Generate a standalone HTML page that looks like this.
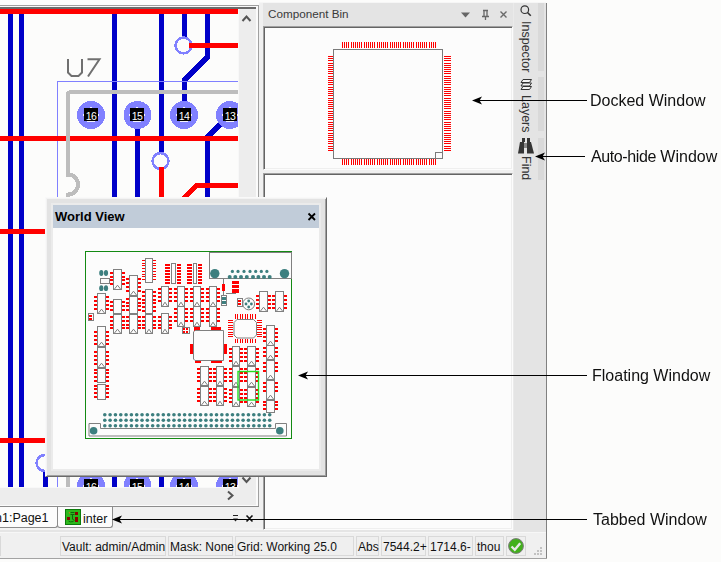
<!DOCTYPE html>
<html><head><meta charset="utf-8"><title>Altium</title>
<style>
*{margin:0;padding:0;box-sizing:border-box}
html,body{width:721px;height:562px;overflow:hidden;background:#fcfcfb;font-family:"Liberation Sans",sans-serif;position:relative}
.a{position:absolute}
.t{white-space:nowrap;line-height:1}
</style></head><body>
<div class="a" style="left:0px;top:5px;width:259px;height:1px;background:#a0a0a0;"></div>
<div class="a" style="left:0px;top:6px;width:258px;height:1px;background:#fafafa;"></div>
<div class="a" style="left:0px;top:7px;width:256px;height:2px;background:#6a6a6a;"></div>
<svg class="a" style="left:0;top:0" width="238" height="487" viewBox="0 0 238 487" shape-rendering="crispEdges">
<rect x="0" y="9" width="238" height="478" fill="#fcfcfb"/>
<path d="M10.5 9 V487" stroke="#0000c8" stroke-width="5" fill="none" stroke-linejoin="miter"/>
<path d="M21.5 9 V487" stroke="#0000c8" stroke-width="5" fill="none" stroke-linejoin="miter"/>
<path d="M114.5 9 V487" stroke="#0000c8" stroke-width="5" fill="none" stroke-linejoin="miter"/>
<path d="M137.5 115 V487" stroke="#0000c8" stroke-width="5" fill="none" stroke-linejoin="miter"/>
<path d="M161.5 9 V161" stroke="#0000c8" stroke-width="5" fill="none" stroke-linejoin="miter"/>
<path d="M184.5 9 V45" stroke="#0000c8" stroke-width="5" fill="none" stroke-linejoin="miter"/>
<path d="M207.5 9 V57 L184.5 80 V115" stroke="#0000c8" stroke-width="5" fill="none" stroke-linejoin="miter"/>
<path d="M229.5 115 L207.5 137 V300" stroke="#0000c8" stroke-width="5" fill="none" stroke-linejoin="miter"/>
<path d="M161.5 300 V487" stroke="#0000c8" stroke-width="5" fill="none" stroke-linejoin="miter"/>
<path d="M45.5 463 V487" stroke="#0000c8" stroke-width="5" fill="none" stroke-linejoin="miter"/>
<rect x="57" y="81" width="1" height="406" fill="#8080ff"/>
<rect x="57" y="81" width="181" height="1" fill="#8080ff"/>
<rect x="0" y="9" width="238" height="5" fill="#ff0000"/>
<rect x="0" y="136" width="238" height="5" fill="#ff0000"/>
<rect x="0" y="229" width="45" height="5" fill="#ff0000"/>
<rect x="0" y="438" width="45" height="5" fill="#ff0000"/>
<path d="M182.5 199.5 L196.5 185.5 H240" stroke="#ff0000" stroke-width="5" fill="none" stroke-linejoin="miter"/>
<path d="M68 490 V194.5 A10 10 0 0 0 68 174.5 V95 Q68 92 71 92 H240" stroke="#bdbdbd" stroke-width="4" fill="none"/>
<circle cx="183.5" cy="45.5" r="7.9" fill="#fcfcfb" stroke="#8080ff" stroke-width="2.6"/>
<circle cx="160.5" cy="161" r="7.9" fill="#fcfcfb" stroke="#8080ff" stroke-width="2.6"/>
<circle cx="44.5" cy="463" r="7.9" fill="#fcfcfb" stroke="#8080ff" stroke-width="2.6"/>
<rect x="189" y="43" width="49" height="5" fill="#ff0000"/>
<rect x="159" y="167" width="5" height="32" fill="#ff0000"/>
<circle cx="91" cy="115" r="14" fill="#8080ff"/>
<rect x="84" y="108" width="14" height="13" fill="#000"/>
<rect x="90" y="107" width="2" height="1" fill="#f4f4ff"/>
<rect x="83" y="114" width="1" height="2" fill="#f4f4ff"/>
<rect x="98" y="114" width="1" height="2" fill="#f4f4ff"/>
<rect x="87" y="121" width="8" height="1" fill="#f4f4ff"/>
<text x="91" y="119.5" font-size="10.5" fill="#fff" text-anchor="middle" font-family="Liberation Sans" letter-spacing="-0.6" shape-rendering="auto">16</text>
<circle cx="91" cy="486" r="14" fill="#8080ff"/>
<rect x="84" y="479" width="14" height="13" fill="#000"/>
<rect x="90" y="478" width="2" height="1" fill="#f4f4ff"/>
<rect x="83" y="485" width="1" height="2" fill="#f4f4ff"/>
<rect x="98" y="485" width="1" height="2" fill="#f4f4ff"/>
<rect x="87" y="492" width="8" height="1" fill="#f4f4ff"/>
<text x="91" y="490.5" font-size="10.5" fill="#fff" text-anchor="middle" font-family="Liberation Sans" letter-spacing="-0.6" shape-rendering="auto">16</text>
<circle cx="137.5" cy="115" r="14" fill="#8080ff"/>
<rect x="130" y="108" width="14" height="13" fill="#000"/>
<rect x="136" y="107" width="2" height="1" fill="#f4f4ff"/>
<rect x="129" y="114" width="1" height="2" fill="#f4f4ff"/>
<rect x="144" y="114" width="1" height="2" fill="#f4f4ff"/>
<rect x="133" y="121" width="8" height="1" fill="#f4f4ff"/>
<text x="137" y="119.5" font-size="10.5" fill="#fff" text-anchor="middle" font-family="Liberation Sans" letter-spacing="-0.6" shape-rendering="auto">15</text>
<circle cx="137.5" cy="486" r="14" fill="#8080ff"/>
<rect x="130" y="479" width="14" height="13" fill="#000"/>
<rect x="136" y="478" width="2" height="1" fill="#f4f4ff"/>
<rect x="129" y="485" width="1" height="2" fill="#f4f4ff"/>
<rect x="144" y="485" width="1" height="2" fill="#f4f4ff"/>
<rect x="133" y="492" width="8" height="1" fill="#f4f4ff"/>
<text x="137" y="490.5" font-size="10.5" fill="#fff" text-anchor="middle" font-family="Liberation Sans" letter-spacing="-0.6" shape-rendering="auto">15</text>
<circle cx="184" cy="115" r="14" fill="#8080ff"/>
<rect x="177" y="108" width="14" height="13" fill="#000"/>
<rect x="183" y="107" width="2" height="1" fill="#f4f4ff"/>
<rect x="176" y="114" width="1" height="2" fill="#f4f4ff"/>
<rect x="191" y="114" width="1" height="2" fill="#f4f4ff"/>
<rect x="180" y="121" width="8" height="1" fill="#f4f4ff"/>
<text x="184" y="119.5" font-size="10.5" fill="#fff" text-anchor="middle" font-family="Liberation Sans" letter-spacing="-0.6" shape-rendering="auto">14</text>
<circle cx="184" cy="486" r="14" fill="#8080ff"/>
<rect x="177" y="479" width="14" height="13" fill="#000"/>
<rect x="183" y="478" width="2" height="1" fill="#f4f4ff"/>
<rect x="176" y="485" width="1" height="2" fill="#f4f4ff"/>
<rect x="191" y="485" width="1" height="2" fill="#f4f4ff"/>
<rect x="180" y="492" width="8" height="1" fill="#f4f4ff"/>
<text x="184" y="490.5" font-size="10.5" fill="#fff" text-anchor="middle" font-family="Liberation Sans" letter-spacing="-0.6" shape-rendering="auto">14</text>
<circle cx="230" cy="115" r="14" fill="#8080ff"/>
<rect x="223" y="108" width="14" height="13" fill="#000"/>
<rect x="229" y="107" width="2" height="1" fill="#f4f4ff"/>
<rect x="222" y="114" width="1" height="2" fill="#f4f4ff"/>
<rect x="237" y="114" width="1" height="2" fill="#f4f4ff"/>
<rect x="226" y="121" width="8" height="1" fill="#f4f4ff"/>
<text x="230" y="119.5" font-size="10.5" fill="#fff" text-anchor="middle" font-family="Liberation Sans" letter-spacing="-0.6" shape-rendering="auto">13</text>
<circle cx="230" cy="486" r="14" fill="#8080ff"/>
<rect x="223" y="479" width="14" height="13" fill="#000"/>
<rect x="229" y="478" width="2" height="1" fill="#f4f4ff"/>
<rect x="222" y="485" width="1" height="2" fill="#f4f4ff"/>
<rect x="237" y="485" width="1" height="2" fill="#f4f4ff"/>
<rect x="226" y="492" width="8" height="1" fill="#f4f4ff"/>
<text x="230" y="490.5" font-size="10.5" fill="#fff" text-anchor="middle" font-family="Liberation Sans" letter-spacing="-0.6" shape-rendering="auto">13</text>
<path d="M68 59 V72.5 L71.5 76 H78.5 L82 72.5 V59 M87.5 59.2 H99.5 L88 76.5" stroke="#707070" stroke-width="2" fill="none" shape-rendering="auto"/>
</svg>
<div class="a" style="left:238px;top:9px;width:18px;height:478px;background:#ededed;"></div>
<div class="a" style="left:238px;top:9px;width:1px;height:478px;background:#f8f8f8;"></div>
<svg class="a" style="left:241px;top:13px" width="12" height="10"><path d="M1.5 8 L5.5 3.5 L9.5 8" stroke="#555" stroke-width="2" fill="none"/></svg>
<svg class="a" style="left:241px;top:476px" width="12" height="10"><path d="M1.5 1.5 L5.5 6 L9.5 1.5" stroke="#555" stroke-width="2" fill="none"/></svg>
<div class="a" style="left:0px;top:487px;width:256px;height:18px;background:#ededed;"></div>
<div class="a" style="left:0px;top:487px;width:239px;height:1px;background:#f8f8f8;"></div>
<svg class="a" style="left:226px;top:490px" width="10" height="12"><path d="M2 1.5 L6.5 5.5 L2 9.5" stroke="#555" stroke-width="2" fill="none"/></svg>
<div class="a" style="left:256px;top:6px;width:2px;height:500px;background:#fbfbfb;"></div>
<div class="a" style="left:258px;top:5px;width:1px;height:502px;background:#a0a0a0;"></div>
<div class="a" style="left:0px;top:505px;width:258px;height:1px;background:#fbfbfb;"></div>
<div class="a" style="left:0px;top:506px;width:259px;height:1px;background:#8c8c8c;"></div>
<div class="a" style="left:0px;top:507px;width:259px;height:23px;background:#f0f0f0;"></div>
<div class="a" style="left:-5px;top:507px;width:63px;height:21px;background:#fcfcfc;border:1px solid #8c8c8c;border-top:none;border-radius:0 0 3px 3px"></div>
<div class="a" style="left:57px;top:507px;width:56px;height:21px;background:#fcfcfc;border:1px solid #8c8c8c;border-top:none;border-radius:0 0 3px 3px"></div>
<div class="a t" style="left:-5px;top:512px;font-size:12.5px;color:#111;font-weight:normal;">n1:Page1</div>
<svg class="a" style="left:65px;top:509px" width="16" height="16" viewBox="0 0 16 16">
<rect x="0" y="0" width="16" height="16" fill="#0b7b0b"/>
<rect x="1" y="1" width="14" height="14" fill="#2cb81c"/>
<rect x="10" y="3" width="3" height="3" fill="#8b0000"/>
<rect x="10" y="8" width="3" height="5" fill="#8b0000"/>
<rect x="2" y="8" width="3" height="3" fill="#8b0000"/>
<path d="M4.5 2.8 L5.5 3.8 L4.5 4.8 L3.5 3.8 Z" fill="#c08020"/>
<path d="M5.5 3.5 H9.5 M5.5 5.5 H9.5 M7.5 5.5 V10.5 M3.5 12 Q5 13.5 8.5 12.5 M8 10.5 L9.5 11.5" stroke="#0a6a0a" stroke-width="1" fill="none"/>
</svg>
<div class="a t" style="left:83px;top:513px;font-size:12.5px;color:#111;font-weight:normal;">inter</div>
<svg class="a" style="left:230px;top:512px" width="30" height="12"><rect x="3" y="3" width="5" height="1" fill="#222"/><path d="M3 6.5 L8 6.5 L5.5 9.5 Z" fill="#222"/><path d="M16.5 3.5 L22.5 9.5 M22.5 3.5 L16.5 9.5" stroke="#111" stroke-width="1.6"/></svg>
<div class="a" style="left:259px;top:3px;width:254px;height:527px;background:#f0f0f0;"></div>
<div class="a" style="left:259px;top:2px;width:287px;height:1px;background:#f6f6f6;"></div>
<div class="a" style="left:263px;top:3px;width:250px;height:23px;background:#e4e4e4;"></div>
<div class="a t" style="left:268px;top:8px;font-size:11.7px;color:#3a3a3a;font-weight:normal;">Component Bin</div>
<svg class="a" style="left:458px;top:8px" width="55" height="14">
<path d="M3 4.5 H12 L7.5 9.5 Z" fill="#666"/>
<path d="M25 2.5 H30 M26 2.5 V8 M29 2.5 V8 M24 8.5 H31 M27.5 8.5 V12" stroke="#666" stroke-width="1.3" fill="none"/>
<path d="M42.5 3.5 L48.5 9.5 M48.5 3.5 L42.5 9.5" stroke="#6a6a6a" stroke-width="1.4"/>
</svg>
<div class="a" style="left:263px;top:26px;width:250px;height:144px;background:#fcfcfc;border-top:1px solid #a0a0a0;border-left:1px solid #a0a0a0;border-right:1px solid #fcfcfc;border-bottom:1px solid #fcfcfc;box-shadow:inset 1px 1px 0 #646464, inset -1px -1px 0 #efefef"></div>
<div class="a" style="left:263px;top:173px;width:250px;height:357px;background:#fcfcfc;border-top:1px solid #a0a0a0;border-left:1px solid #a0a0a0;border-right:1px solid #fcfcfc;border-bottom:1px solid #fcfcfc;box-shadow:inset 1px 1px 0 #646464, inset -1px -1px 0 #efefef"></div>
<svg class="a" style="left:320px;top:36px" width="140" height="135" viewBox="320 36 140 135" shape-rendering="crispEdges">
<rect x="342" y="42" width="1" height="6" fill="#ff0000"/>
<rect x="342" y="159" width="1" height="6" fill="#ff0000"/>
<rect x="328" y="56" width="5" height="1" fill="#ff0000"/>
<rect x="444" y="56" width="7" height="1" fill="#ff0000"/>
<rect x="344" y="42" width="1" height="6" fill="#ff0000"/>
<rect x="344" y="159" width="1" height="6" fill="#ff0000"/>
<rect x="328" y="58" width="5" height="1" fill="#ff0000"/>
<rect x="444" y="58" width="7" height="1" fill="#ff0000"/>
<rect x="346" y="42" width="1" height="6" fill="#ff0000"/>
<rect x="346" y="159" width="1" height="6" fill="#ff0000"/>
<rect x="328" y="60" width="5" height="1" fill="#ff0000"/>
<rect x="444" y="60" width="7" height="1" fill="#ff0000"/>
<rect x="348" y="42" width="1" height="6" fill="#ff0000"/>
<rect x="348" y="159" width="1" height="6" fill="#ff0000"/>
<rect x="328" y="63" width="5" height="1" fill="#ff0000"/>
<rect x="444" y="63" width="7" height="1" fill="#ff0000"/>
<rect x="351" y="42" width="1" height="6" fill="#ff0000"/>
<rect x="351" y="159" width="1" height="6" fill="#ff0000"/>
<rect x="328" y="65" width="5" height="1" fill="#ff0000"/>
<rect x="444" y="65" width="7" height="1" fill="#ff0000"/>
<rect x="353" y="42" width="1" height="6" fill="#ff0000"/>
<rect x="353" y="159" width="1" height="6" fill="#ff0000"/>
<rect x="328" y="67" width="5" height="1" fill="#ff0000"/>
<rect x="444" y="67" width="7" height="1" fill="#ff0000"/>
<rect x="355" y="42" width="1" height="6" fill="#ff0000"/>
<rect x="355" y="159" width="1" height="6" fill="#ff0000"/>
<rect x="328" y="69" width="5" height="1" fill="#ff0000"/>
<rect x="444" y="69" width="7" height="1" fill="#ff0000"/>
<rect x="357" y="42" width="1" height="6" fill="#ff0000"/>
<rect x="357" y="159" width="1" height="6" fill="#ff0000"/>
<rect x="328" y="71" width="5" height="1" fill="#ff0000"/>
<rect x="444" y="71" width="7" height="1" fill="#ff0000"/>
<rect x="359" y="42" width="1" height="6" fill="#ff0000"/>
<rect x="359" y="159" width="1" height="6" fill="#ff0000"/>
<rect x="328" y="73" width="5" height="1" fill="#ff0000"/>
<rect x="444" y="73" width="7" height="1" fill="#ff0000"/>
<rect x="361" y="42" width="1" height="6" fill="#ff0000"/>
<rect x="361" y="159" width="1" height="6" fill="#ff0000"/>
<rect x="328" y="76" width="5" height="1" fill="#ff0000"/>
<rect x="444" y="76" width="7" height="1" fill="#ff0000"/>
<rect x="364" y="42" width="1" height="6" fill="#ff0000"/>
<rect x="364" y="159" width="1" height="6" fill="#ff0000"/>
<rect x="328" y="78" width="5" height="1" fill="#ff0000"/>
<rect x="444" y="78" width="7" height="1" fill="#ff0000"/>
<rect x="366" y="42" width="1" height="6" fill="#ff0000"/>
<rect x="366" y="159" width="1" height="6" fill="#ff0000"/>
<rect x="328" y="80" width="5" height="1" fill="#ff0000"/>
<rect x="444" y="80" width="7" height="1" fill="#ff0000"/>
<rect x="368" y="42" width="1" height="6" fill="#ff0000"/>
<rect x="368" y="159" width="1" height="6" fill="#ff0000"/>
<rect x="328" y="82" width="5" height="1" fill="#ff0000"/>
<rect x="444" y="82" width="7" height="1" fill="#ff0000"/>
<rect x="370" y="42" width="1" height="6" fill="#ff0000"/>
<rect x="370" y="159" width="1" height="6" fill="#ff0000"/>
<rect x="328" y="84" width="5" height="1" fill="#ff0000"/>
<rect x="444" y="84" width="7" height="1" fill="#ff0000"/>
<rect x="372" y="42" width="1" height="6" fill="#ff0000"/>
<rect x="372" y="159" width="1" height="6" fill="#ff0000"/>
<rect x="328" y="87" width="5" height="1" fill="#ff0000"/>
<rect x="444" y="87" width="7" height="1" fill="#ff0000"/>
<rect x="374" y="42" width="1" height="6" fill="#ff0000"/>
<rect x="374" y="159" width="1" height="6" fill="#ff0000"/>
<rect x="328" y="89" width="5" height="1" fill="#ff0000"/>
<rect x="444" y="89" width="7" height="1" fill="#ff0000"/>
<rect x="377" y="42" width="1" height="6" fill="#ff0000"/>
<rect x="377" y="159" width="1" height="6" fill="#ff0000"/>
<rect x="328" y="91" width="5" height="1" fill="#ff0000"/>
<rect x="444" y="91" width="7" height="1" fill="#ff0000"/>
<rect x="379" y="42" width="1" height="6" fill="#ff0000"/>
<rect x="379" y="159" width="1" height="6" fill="#ff0000"/>
<rect x="328" y="93" width="5" height="1" fill="#ff0000"/>
<rect x="444" y="93" width="7" height="1" fill="#ff0000"/>
<rect x="381" y="42" width="1" height="6" fill="#ff0000"/>
<rect x="381" y="159" width="1" height="6" fill="#ff0000"/>
<rect x="328" y="95" width="5" height="1" fill="#ff0000"/>
<rect x="444" y="95" width="7" height="1" fill="#ff0000"/>
<rect x="383" y="42" width="1" height="6" fill="#ff0000"/>
<rect x="383" y="159" width="1" height="6" fill="#ff0000"/>
<rect x="328" y="98" width="5" height="1" fill="#ff0000"/>
<rect x="444" y="98" width="7" height="1" fill="#ff0000"/>
<rect x="385" y="42" width="1" height="6" fill="#ff0000"/>
<rect x="385" y="159" width="1" height="6" fill="#ff0000"/>
<rect x="328" y="100" width="5" height="1" fill="#ff0000"/>
<rect x="444" y="100" width="7" height="1" fill="#ff0000"/>
<rect x="387" y="42" width="1" height="6" fill="#ff0000"/>
<rect x="387" y="159" width="1" height="6" fill="#ff0000"/>
<rect x="328" y="102" width="5" height="1" fill="#ff0000"/>
<rect x="444" y="102" width="7" height="1" fill="#ff0000"/>
<rect x="390" y="42" width="1" height="6" fill="#ff0000"/>
<rect x="390" y="159" width="1" height="6" fill="#ff0000"/>
<rect x="328" y="104" width="5" height="1" fill="#ff0000"/>
<rect x="444" y="104" width="7" height="1" fill="#ff0000"/>
<rect x="392" y="42" width="1" height="6" fill="#ff0000"/>
<rect x="392" y="159" width="1" height="6" fill="#ff0000"/>
<rect x="328" y="106" width="5" height="1" fill="#ff0000"/>
<rect x="444" y="106" width="7" height="1" fill="#ff0000"/>
<rect x="394" y="42" width="1" height="6" fill="#ff0000"/>
<rect x="394" y="159" width="1" height="6" fill="#ff0000"/>
<rect x="328" y="108" width="5" height="1" fill="#ff0000"/>
<rect x="444" y="108" width="7" height="1" fill="#ff0000"/>
<rect x="396" y="42" width="1" height="6" fill="#ff0000"/>
<rect x="396" y="159" width="1" height="6" fill="#ff0000"/>
<rect x="328" y="111" width="5" height="1" fill="#ff0000"/>
<rect x="444" y="111" width="7" height="1" fill="#ff0000"/>
<rect x="398" y="42" width="1" height="6" fill="#ff0000"/>
<rect x="398" y="159" width="1" height="6" fill="#ff0000"/>
<rect x="328" y="113" width="5" height="1" fill="#ff0000"/>
<rect x="444" y="113" width="7" height="1" fill="#ff0000"/>
<rect x="400" y="42" width="1" height="6" fill="#ff0000"/>
<rect x="400" y="159" width="1" height="6" fill="#ff0000"/>
<rect x="328" y="115" width="5" height="1" fill="#ff0000"/>
<rect x="444" y="115" width="7" height="1" fill="#ff0000"/>
<rect x="403" y="42" width="1" height="6" fill="#ff0000"/>
<rect x="403" y="159" width="1" height="6" fill="#ff0000"/>
<rect x="328" y="117" width="5" height="1" fill="#ff0000"/>
<rect x="444" y="117" width="7" height="1" fill="#ff0000"/>
<rect x="405" y="42" width="1" height="6" fill="#ff0000"/>
<rect x="405" y="159" width="1" height="6" fill="#ff0000"/>
<rect x="328" y="119" width="5" height="1" fill="#ff0000"/>
<rect x="444" y="119" width="7" height="1" fill="#ff0000"/>
<rect x="407" y="42" width="1" height="6" fill="#ff0000"/>
<rect x="407" y="159" width="1" height="6" fill="#ff0000"/>
<rect x="328" y="122" width="5" height="1" fill="#ff0000"/>
<rect x="444" y="122" width="7" height="1" fill="#ff0000"/>
<rect x="409" y="42" width="1" height="6" fill="#ff0000"/>
<rect x="409" y="159" width="1" height="6" fill="#ff0000"/>
<rect x="328" y="124" width="5" height="1" fill="#ff0000"/>
<rect x="444" y="124" width="7" height="1" fill="#ff0000"/>
<rect x="411" y="42" width="1" height="6" fill="#ff0000"/>
<rect x="411" y="159" width="1" height="6" fill="#ff0000"/>
<rect x="328" y="126" width="5" height="1" fill="#ff0000"/>
<rect x="444" y="126" width="7" height="1" fill="#ff0000"/>
<rect x="413" y="42" width="1" height="6" fill="#ff0000"/>
<rect x="413" y="159" width="1" height="6" fill="#ff0000"/>
<rect x="328" y="128" width="5" height="1" fill="#ff0000"/>
<rect x="444" y="128" width="7" height="1" fill="#ff0000"/>
<rect x="416" y="42" width="1" height="6" fill="#ff0000"/>
<rect x="416" y="159" width="1" height="6" fill="#ff0000"/>
<rect x="328" y="130" width="5" height="1" fill="#ff0000"/>
<rect x="444" y="130" width="7" height="1" fill="#ff0000"/>
<rect x="418" y="42" width="1" height="6" fill="#ff0000"/>
<rect x="418" y="159" width="1" height="6" fill="#ff0000"/>
<rect x="328" y="133" width="5" height="1" fill="#ff0000"/>
<rect x="444" y="133" width="7" height="1" fill="#ff0000"/>
<rect x="420" y="42" width="1" height="6" fill="#ff0000"/>
<rect x="420" y="159" width="1" height="6" fill="#ff0000"/>
<rect x="328" y="135" width="5" height="1" fill="#ff0000"/>
<rect x="444" y="135" width="7" height="1" fill="#ff0000"/>
<rect x="422" y="42" width="1" height="6" fill="#ff0000"/>
<rect x="422" y="159" width="1" height="6" fill="#ff0000"/>
<rect x="328" y="137" width="5" height="1" fill="#ff0000"/>
<rect x="444" y="137" width="7" height="1" fill="#ff0000"/>
<rect x="424" y="42" width="1" height="6" fill="#ff0000"/>
<rect x="424" y="159" width="1" height="6" fill="#ff0000"/>
<rect x="328" y="139" width="5" height="1" fill="#ff0000"/>
<rect x="444" y="139" width="7" height="1" fill="#ff0000"/>
<rect x="426" y="42" width="1" height="6" fill="#ff0000"/>
<rect x="426" y="159" width="1" height="6" fill="#ff0000"/>
<rect x="328" y="141" width="5" height="1" fill="#ff0000"/>
<rect x="444" y="141" width="7" height="1" fill="#ff0000"/>
<rect x="429" y="42" width="1" height="6" fill="#ff0000"/>
<rect x="429" y="159" width="1" height="6" fill="#ff0000"/>
<rect x="328" y="143" width="5" height="1" fill="#ff0000"/>
<rect x="444" y="143" width="7" height="1" fill="#ff0000"/>
<rect x="431" y="42" width="1" height="6" fill="#ff0000"/>
<rect x="431" y="159" width="1" height="6" fill="#ff0000"/>
<rect x="328" y="146" width="5" height="1" fill="#ff0000"/>
<rect x="444" y="146" width="7" height="1" fill="#ff0000"/>
<rect x="433" y="42" width="1" height="6" fill="#ff0000"/>
<rect x="433" y="159" width="1" height="6" fill="#ff0000"/>
<rect x="328" y="148" width="5" height="1" fill="#ff0000"/>
<rect x="444" y="148" width="7" height="1" fill="#ff0000"/>
<rect x="435" y="42" width="1" height="6" fill="#ff0000"/>
<rect x="435" y="159" width="1" height="6" fill="#ff0000"/>
<rect x="328" y="150" width="5" height="1" fill="#ff0000"/>
<rect x="444" y="150" width="7" height="1" fill="#ff0000"/>
<rect x="333.5" y="49.5" width="109" height="109" fill="none" stroke="#7a7a7a" stroke-width="1.5"/>
<rect x="435.5" y="152.5" width="7" height="6" fill="none" stroke="#7a7a7a" stroke-width="1"/>
</svg>
<div class="a" style="left:513px;top:3px;width:1px;height:527px;background:#eaeaea;"></div>
<div class="a" style="left:514px;top:3px;width:32px;height:527px;background:#e4e4e4;"></div>
<div class="a" style="left:538px;top:3px;width:6px;height:68px;background:#d9d9d9;"></div>
<div class="a" style="left:538px;top:77px;width:6px;height:54px;background:#d9d9d9;"></div>
<div class="a" style="left:538px;top:138px;width:6px;height:42px;background:#d9d9d9;"></div>
<div class="a" style="left:546px;top:3px;width:1px;height:556px;background:#808080;"></div>
<svg class="a" style="left:514px;top:3px" width="24" height="180">
<circle cx="10.8" cy="6.7" r="3.8" fill="none" stroke="#333" stroke-width="1.2"/>
<path d="M13.5 9.5 L16.8 12.8" stroke="#333" stroke-width="1.6"/>
<g fill="#f4f4f4" stroke="#333" stroke-width="1">
<path d="M9 83.5 L17.5 83.5 L15.5 86.5 L7 86.5 Z"/>
<path d="M9 80 L17.5 80 L15.5 83 L7 83 Z"/>
<path d="M9 76.5 L17.5 76.5 L15.5 79.5 L7 79.5 Z"/>
</g>
<g fill="#353535">
<rect x="8" y="135" width="3" height="4"/>
<rect x="13" y="135" width="3" height="4"/>
<path d="M6 139 H10 V150.6 H4 Z"/>
<path d="M13 139 H17 L20 150.6 H13 Z"/>
<rect x="10" y="140" width="3" height="5" fill="#8a8a8a"/>
</g>
</svg>
<div class="a t" style="left:519px;top:21px;writing-mode:vertical-rl;font-size:12.5px;color:#333">Inspector</div>
<div class="a t" style="left:519px;top:95px;writing-mode:vertical-rl;font-size:12.5px;color:#333">Layers</div>
<div class="a t" style="left:519px;top:156px;writing-mode:vertical-rl;font-size:12.5px;color:#333">Find</div>
<div class="a" style="left:0px;top:528px;width:263px;height:2px;background:#f3f3f3;"></div>
<div class="a" style="left:0px;top:530px;width:546px;height:2px;background:#e5e5e5;"></div>
<div class="a" style="left:0px;top:532px;width:546px;height:1px;background:#f7f7f7;"></div>
<div class="a" style="left:0px;top:533px;width:546px;height:25px;background:#f0f0f0;"></div>
<div class="a" style="left:0px;top:558px;width:547px;height:1px;background:#a3a3a3;"></div>
<div class="a" style="left:-10px;top:536px;width:11px;height:20px;border:1px solid #d9d9d9;background:#efefef"></div>
<div class="a" style="left:60px;top:536px;width:106px;height:20px;border:1px solid #d9d9d9;background:#efefef"></div>
<div class="a t" style="left:62px;top:541px;font-size:12px;color:#111;font-weight:normal;">Vault: admin/Admin</div>
<div class="a" style="left:168px;top:536px;width:65px;height:20px;border:1px solid #d9d9d9;background:#efefef"></div>
<div class="a t" style="left:170px;top:541px;font-size:12px;color:#111;font-weight:normal;">Mask: None</div>
<div class="a" style="left:235px;top:536px;width:119px;height:20px;border:1px solid #d9d9d9;background:#efefef"></div>
<div class="a t" style="left:237px;top:541px;font-size:12px;color:#111;font-weight:normal;">Grid: Working 25.0</div>
<div class="a" style="left:356px;top:536px;width:23px;height:20px;border:1px solid #d9d9d9;background:#efefef"></div>
<div class="a t" style="left:358px;top:541px;font-size:12px;color:#111;font-weight:normal;">Abs</div>
<div class="a" style="left:381px;top:536px;width:45px;height:20px;border:1px solid #d9d9d9;background:#efefef"></div>
<div class="a t" style="left:383px;top:541px;font-size:12px;color:#111;font-weight:normal;">7544.2+</div>
<div class="a" style="left:428px;top:536px;width:45px;height:20px;border:1px solid #d9d9d9;background:#efefef"></div>
<div class="a t" style="left:430px;top:541px;font-size:12px;color:#111;font-weight:normal;">1714.6-</div>
<div class="a" style="left:475px;top:536px;width:29px;height:20px;border:1px solid #d9d9d9;background:#efefef"></div>
<div class="a t" style="left:477px;top:541px;font-size:12px;color:#111;font-weight:normal;">thou</div>
<div class="a" style="left:506px;top:536px;width:20px;height:20px;border:1px solid #d9d9d9;background:#efefef"></div>
<svg class="a" style="left:507px;top:538px" width="18" height="17">
<circle cx="9" cy="8" r="7.4" fill="#42b01c" stroke="#7a7a7a" stroke-width="1"/>
<path d="M4.5 8.5 L7.8 11.8 L13.2 5.2" stroke="#e8e8e8" stroke-width="2.4" fill="none"/>
</svg>
<svg class="a" style="left:532px;top:547px" width="12" height="10" fill="#c2c2c2">
<rect x="8" y="0" width="2" height="2"/><rect x="5" y="3" width="2" height="2"/><rect x="8" y="3" width="2" height="2"/>
<rect x="2" y="6" width="2" height="2"/><rect x="5" y="6" width="2" height="2"/><rect x="8" y="6" width="2" height="2"/>
</svg>
<div class="a" style="left:45px;top:197px;width:282px;height:280px;background:#e3e3e3;border-top:1px solid #f9f9f9;border-left:1px solid #f9f9f9;border-right:1px solid #6a6a6a;border-bottom:1px solid #6a6a6a;box-shadow:inset 1px 1px 0 #f3f3f3, inset -1px -1px 0 #a0a0a0"></div>
<div class="a" style="left:51px;top:203px;width:270px;height:268px;background:#ebebeb"></div>
<div class="a" style="left:53px;top:205px;width:266px;height:23px;background:#c1ccd9"></div>
<div class="a" style="left:53px;top:228px;width:266px;height:241px;background:#fcfcfc"></div>
<div class="a t" style="left:55px;top:210px;font-size:13px;color:#000;font-weight:bold;">World View</div>
<svg class="a" style="left:306px;top:211px" width="12" height="11"><path d="M2.5 2.5 L9 9 M9 2.5 L2.5 9" stroke="#000" stroke-width="1.8"/></svg>
<svg class="a" id="wv" style="left:0;top:0" width="330" height="480" viewBox="0 0 330 480"><g shape-rendering="crispEdges">
<rect x="85" y="251" width="207" height="1" fill="#138a13"/>
<rect x="85" y="438" width="207" height="1" fill="#138a13"/>
<rect x="85" y="251" width="1" height="188" fill="#138a13"/>
<rect x="291" y="251" width="1" height="188" fill="#138a13"/>
</g>
<ellipse cx="101.3" cy="273" rx="2.1" ry="2.9" fill="#3d7f7f"/>
<ellipse cx="106" cy="273" rx="2.1" ry="2.9" fill="#3d7f7f"/>
<ellipse cx="101.3" cy="288.2" rx="2.1" ry="2.9" fill="#3d7f7f"/>
<ellipse cx="106" cy="288.2" rx="2.1" ry="2.9" fill="#3d7f7f"/>
<g shape-rendering="crispEdges">
<rect x="100" y="278" width="10" height="1" fill="#808080"/>
<rect x="100" y="283" width="10" height="1" fill="#808080"/>
<rect x="100" y="278" width="1" height="6" fill="#808080"/>
<rect x="109" y="278" width="1" height="6" fill="#808080"/>
<rect x="110" y="272" width="3" height="2" fill="#ff0000"/>
<rect x="122" y="272" width="3" height="2" fill="#ff0000"/>
<rect x="110" y="276" width="3" height="2" fill="#ff0000"/>
<rect x="122" y="276" width="3" height="2" fill="#ff0000"/>
<rect x="110" y="279" width="3" height="2" fill="#ff0000"/>
<rect x="122" y="279" width="3" height="2" fill="#ff0000"/>
<rect x="110" y="283" width="3" height="2" fill="#ff0000"/>
<rect x="122" y="283" width="3" height="2" fill="#ff0000"/>
<rect x="113" y="269" width="9" height="1" fill="#808080"/>
<rect x="113" y="289" width="9" height="1" fill="#808080"/>
<rect x="113" y="269" width="1" height="21" fill="#808080"/>
<rect x="121" y="269" width="1" height="21" fill="#808080"/>
<path d="M114.5 289 L117.5 285.2 L120.5 289" fill="none" stroke="#808080" stroke-width="1" shape-rendering="auto"/>
<rect x="126" y="278" width="3" height="2" fill="#ff0000"/>
<rect x="138" y="278" width="3" height="2" fill="#ff0000"/>
<rect x="126" y="282" width="3" height="2" fill="#ff0000"/>
<rect x="138" y="282" width="3" height="2" fill="#ff0000"/>
<rect x="126" y="286" width="3" height="2" fill="#ff0000"/>
<rect x="138" y="286" width="3" height="2" fill="#ff0000"/>
<rect x="126" y="290" width="3" height="2" fill="#ff0000"/>
<rect x="138" y="290" width="3" height="2" fill="#ff0000"/>
<rect x="129" y="275" width="9" height="1" fill="#808080"/>
<rect x="129" y="295" width="9" height="1" fill="#808080"/>
<rect x="129" y="275" width="1" height="21" fill="#808080"/>
<rect x="137" y="275" width="1" height="21" fill="#808080"/>
<path d="M130.5 295 L133.5 291.2 L136.5 295" fill="none" stroke="#808080" stroke-width="1" shape-rendering="auto"/>
<rect x="142" y="260" width="3" height="1" fill="#ff0000"/>
<rect x="153" y="260" width="3" height="1" fill="#ff0000"/>
<rect x="142" y="263" width="3" height="1" fill="#ff0000"/>
<rect x="153" y="263" width="3" height="1" fill="#ff0000"/>
<rect x="142" y="265" width="3" height="1" fill="#ff0000"/>
<rect x="153" y="265" width="3" height="1" fill="#ff0000"/>
<rect x="142" y="268" width="3" height="1" fill="#ff0000"/>
<rect x="153" y="268" width="3" height="1" fill="#ff0000"/>
<rect x="142" y="271" width="3" height="1" fill="#ff0000"/>
<rect x="153" y="271" width="3" height="1" fill="#ff0000"/>
<rect x="142" y="274" width="3" height="1" fill="#ff0000"/>
<rect x="153" y="274" width="3" height="1" fill="#ff0000"/>
<rect x="142" y="276" width="3" height="1" fill="#ff0000"/>
<rect x="153" y="276" width="3" height="1" fill="#ff0000"/>
<rect x="142" y="279" width="3" height="1" fill="#ff0000"/>
<rect x="153" y="279" width="3" height="1" fill="#ff0000"/>
<rect x="145" y="258" width="8" height="1" fill="#808080"/>
<rect x="145" y="282" width="8" height="1" fill="#808080"/>
<rect x="145" y="258" width="1" height="25" fill="#808080"/>
<rect x="152" y="258" width="1" height="25" fill="#808080"/>
<rect x="165" y="264" width="5" height="2" fill="#ff0000"/>
<rect x="177" y="264" width="4" height="2" fill="#ff0000"/>
<rect x="165" y="267" width="5" height="2" fill="#ff0000"/>
<rect x="177" y="267" width="4" height="2" fill="#ff0000"/>
<rect x="165" y="270" width="5" height="2" fill="#ff0000"/>
<rect x="177" y="270" width="4" height="2" fill="#ff0000"/>
<rect x="165" y="273" width="5" height="2" fill="#ff0000"/>
<rect x="177" y="273" width="4" height="2" fill="#ff0000"/>
<rect x="165" y="276" width="5" height="2" fill="#ff0000"/>
<rect x="177" y="276" width="4" height="2" fill="#ff0000"/>
<rect x="165" y="279" width="5" height="2" fill="#ff0000"/>
<rect x="177" y="279" width="4" height="2" fill="#ff0000"/>
<rect x="165" y="282" width="5" height="2" fill="#ff0000"/>
<rect x="177" y="282" width="4" height="2" fill="#ff0000"/>
<rect x="171" y="263" width="5" height="1" fill="#808080"/>
<rect x="171" y="283" width="5" height="1" fill="#808080"/>
<rect x="171" y="263" width="1" height="21" fill="#808080"/>
<rect x="175" y="263" width="1" height="21" fill="#808080"/>
<rect x="187" y="264" width="5" height="2" fill="#ff0000"/>
<rect x="198" y="264" width="4" height="2" fill="#ff0000"/>
<rect x="187" y="267" width="5" height="2" fill="#ff0000"/>
<rect x="198" y="267" width="4" height="2" fill="#ff0000"/>
<rect x="187" y="270" width="5" height="2" fill="#ff0000"/>
<rect x="198" y="270" width="4" height="2" fill="#ff0000"/>
<rect x="187" y="273" width="5" height="2" fill="#ff0000"/>
<rect x="198" y="273" width="4" height="2" fill="#ff0000"/>
<rect x="187" y="276" width="5" height="2" fill="#ff0000"/>
<rect x="198" y="276" width="4" height="2" fill="#ff0000"/>
<rect x="187" y="279" width="5" height="2" fill="#ff0000"/>
<rect x="198" y="279" width="4" height="2" fill="#ff0000"/>
<rect x="187" y="282" width="5" height="2" fill="#ff0000"/>
<rect x="198" y="282" width="4" height="2" fill="#ff0000"/>
<rect x="193" y="263" width="4" height="1" fill="#808080"/>
<rect x="193" y="283" width="4" height="1" fill="#808080"/>
<rect x="193" y="263" width="1" height="21" fill="#808080"/>
<rect x="196" y="263" width="1" height="21" fill="#808080"/>
<rect x="209" y="252" width="83" height="1" fill="#808080"/>
<rect x="209" y="252" width="1" height="27" fill="#808080"/>
<rect x="291" y="252" width="1" height="27" fill="#808080"/>
<rect x="209" y="278" width="83" height="1" fill="#808080"/>
</g>
<circle cx="214.8" cy="273.6" r="4.7" fill="#3d7f7f"/>
<circle cx="284.5" cy="273.6" r="4.7" fill="#3d7f7f"/>
<circle cx="232.4" cy="271.4" r="1.6" fill="#3d7f7f"/>
<circle cx="238" cy="271.4" r="1.6" fill="#3d7f7f"/>
<circle cx="244" cy="271.4" r="1.6" fill="#3d7f7f"/>
<circle cx="250" cy="271.4" r="1.6" fill="#3d7f7f"/>
<circle cx="255.7" cy="271.4" r="1.6" fill="#3d7f7f"/>
<circle cx="261.3" cy="271.4" r="1.6" fill="#3d7f7f"/>
<circle cx="266.9" cy="271.4" r="1.6" fill="#3d7f7f"/>
<circle cx="229.7" cy="277" r="2" fill="#3d7f7f"/>
<circle cx="235.3" cy="277" r="2" fill="#3d7f7f"/>
<circle cx="241" cy="277" r="2" fill="#3d7f7f"/>
<circle cx="246.8" cy="277" r="2" fill="#3d7f7f"/>
<circle cx="253" cy="277" r="2" fill="#3d7f7f"/>
<circle cx="258.4" cy="277" r="2" fill="#3d7f7f"/>
<circle cx="264" cy="277" r="2" fill="#3d7f7f"/>
<circle cx="269.7" cy="277" r="2" fill="#3d7f7f"/>
<g shape-rendering="crispEdges">
<rect x="94" y="296" width="3" height="2" fill="#ff0000"/>
<rect x="106" y="296" width="3" height="2" fill="#ff0000"/>
<rect x="94" y="300" width="3" height="2" fill="#ff0000"/>
<rect x="106" y="300" width="3" height="2" fill="#ff0000"/>
<rect x="94" y="304" width="3" height="2" fill="#ff0000"/>
<rect x="106" y="304" width="3" height="2" fill="#ff0000"/>
<rect x="94" y="308" width="3" height="2" fill="#ff0000"/>
<rect x="106" y="308" width="3" height="2" fill="#ff0000"/>
<rect x="97" y="293" width="9" height="1" fill="#808080"/>
<rect x="97" y="313" width="9" height="1" fill="#808080"/>
<rect x="97" y="293" width="1" height="21" fill="#808080"/>
<rect x="105" y="293" width="1" height="21" fill="#808080"/>
<path d="M98.5 313 L101.5 309.2 L104.5 313" fill="none" stroke="#808080" stroke-width="1" shape-rendering="auto"/>
<rect x="110" y="301" width="3" height="2" fill="#ff0000"/>
<rect x="122" y="301" width="3" height="2" fill="#ff0000"/>
<rect x="110" y="305" width="3" height="2" fill="#ff0000"/>
<rect x="122" y="305" width="3" height="2" fill="#ff0000"/>
<rect x="110" y="309" width="3" height="2" fill="#ff0000"/>
<rect x="122" y="309" width="3" height="2" fill="#ff0000"/>
<rect x="113" y="299" width="9" height="1" fill="#808080"/>
<rect x="113" y="313" width="9" height="1" fill="#808080"/>
<rect x="113" y="299" width="1" height="15" fill="#808080"/>
<rect x="121" y="299" width="1" height="15" fill="#808080"/>
<rect x="126" y="298" width="3" height="2" fill="#ff0000"/>
<rect x="138" y="298" width="3" height="2" fill="#ff0000"/>
<rect x="126" y="302" width="3" height="2" fill="#ff0000"/>
<rect x="138" y="302" width="3" height="2" fill="#ff0000"/>
<rect x="126" y="305" width="3" height="2" fill="#ff0000"/>
<rect x="138" y="305" width="3" height="2" fill="#ff0000"/>
<rect x="126" y="309" width="3" height="2" fill="#ff0000"/>
<rect x="138" y="309" width="3" height="2" fill="#ff0000"/>
<rect x="129" y="296" width="9" height="1" fill="#808080"/>
<rect x="129" y="313" width="9" height="1" fill="#808080"/>
<rect x="129" y="296" width="1" height="18" fill="#808080"/>
<rect x="137" y="296" width="1" height="18" fill="#808080"/>
<rect x="142" y="291" width="3" height="2" fill="#ff0000"/>
<rect x="153" y="291" width="3" height="2" fill="#ff0000"/>
<rect x="142" y="295" width="3" height="2" fill="#ff0000"/>
<rect x="153" y="295" width="3" height="2" fill="#ff0000"/>
<rect x="142" y="299" width="3" height="2" fill="#ff0000"/>
<rect x="153" y="299" width="3" height="2" fill="#ff0000"/>
<rect x="142" y="302" width="3" height="2" fill="#ff0000"/>
<rect x="153" y="302" width="3" height="2" fill="#ff0000"/>
<rect x="142" y="306" width="3" height="2" fill="#ff0000"/>
<rect x="153" y="306" width="3" height="2" fill="#ff0000"/>
<rect x="142" y="310" width="3" height="2" fill="#ff0000"/>
<rect x="153" y="310" width="3" height="2" fill="#ff0000"/>
<rect x="145" y="289" width="8" height="1" fill="#808080"/>
<rect x="145" y="313" width="8" height="1" fill="#808080"/>
<rect x="145" y="289" width="1" height="25" fill="#808080"/>
<rect x="152" y="289" width="1" height="25" fill="#808080"/>
<rect x="158" y="288" width="3" height="2" fill="#ff0000"/>
<rect x="169" y="288" width="3" height="2" fill="#ff0000"/>
<rect x="158" y="292" width="3" height="2" fill="#ff0000"/>
<rect x="169" y="292" width="3" height="2" fill="#ff0000"/>
<rect x="158" y="296" width="3" height="2" fill="#ff0000"/>
<rect x="169" y="296" width="3" height="2" fill="#ff0000"/>
<rect x="158" y="300" width="3" height="2" fill="#ff0000"/>
<rect x="169" y="300" width="3" height="2" fill="#ff0000"/>
<rect x="161" y="286" width="8" height="1" fill="#808080"/>
<rect x="161" y="306" width="8" height="1" fill="#808080"/>
<rect x="161" y="286" width="1" height="21" fill="#808080"/>
<rect x="168" y="286" width="1" height="21" fill="#808080"/>
<path d="M162.5 306 L165 302.2 L167.5 306" fill="none" stroke="#808080" stroke-width="1" shape-rendering="auto"/>
<rect x="174" y="288" width="3" height="2" fill="#ff0000"/>
<rect x="185" y="288" width="3" height="2" fill="#ff0000"/>
<rect x="174" y="292" width="3" height="2" fill="#ff0000"/>
<rect x="185" y="292" width="3" height="2" fill="#ff0000"/>
<rect x="174" y="296" width="3" height="2" fill="#ff0000"/>
<rect x="185" y="296" width="3" height="2" fill="#ff0000"/>
<rect x="174" y="300" width="3" height="2" fill="#ff0000"/>
<rect x="185" y="300" width="3" height="2" fill="#ff0000"/>
<rect x="177" y="286" width="8" height="1" fill="#808080"/>
<rect x="177" y="306" width="8" height="1" fill="#808080"/>
<rect x="177" y="286" width="1" height="21" fill="#808080"/>
<rect x="184" y="286" width="1" height="21" fill="#808080"/>
<path d="M178.5 306 L181 302.2 L183.5 306" fill="none" stroke="#808080" stroke-width="1" shape-rendering="auto"/>
<rect x="190" y="288" width="3" height="2" fill="#ff0000"/>
<rect x="201" y="288" width="3" height="2" fill="#ff0000"/>
<rect x="190" y="292" width="3" height="2" fill="#ff0000"/>
<rect x="201" y="292" width="3" height="2" fill="#ff0000"/>
<rect x="190" y="296" width="3" height="2" fill="#ff0000"/>
<rect x="201" y="296" width="3" height="2" fill="#ff0000"/>
<rect x="190" y="300" width="3" height="2" fill="#ff0000"/>
<rect x="201" y="300" width="3" height="2" fill="#ff0000"/>
<rect x="193" y="286" width="8" height="1" fill="#808080"/>
<rect x="193" y="306" width="8" height="1" fill="#808080"/>
<rect x="193" y="286" width="1" height="21" fill="#808080"/>
<rect x="200" y="286" width="1" height="21" fill="#808080"/>
<path d="M194.5 306 L197 302.2 L199.5 306" fill="none" stroke="#808080" stroke-width="1" shape-rendering="auto"/>
<rect x="206" y="288" width="3" height="2" fill="#ff0000"/>
<rect x="217" y="288" width="3" height="2" fill="#ff0000"/>
<rect x="206" y="292" width="3" height="2" fill="#ff0000"/>
<rect x="217" y="292" width="3" height="2" fill="#ff0000"/>
<rect x="206" y="296" width="3" height="2" fill="#ff0000"/>
<rect x="217" y="296" width="3" height="2" fill="#ff0000"/>
<rect x="206" y="300" width="3" height="2" fill="#ff0000"/>
<rect x="217" y="300" width="3" height="2" fill="#ff0000"/>
<rect x="209" y="286" width="8" height="1" fill="#808080"/>
<rect x="209" y="306" width="8" height="1" fill="#808080"/>
<rect x="209" y="286" width="1" height="21" fill="#808080"/>
<rect x="216" y="286" width="1" height="21" fill="#808080"/>
<path d="M210.5 306 L213 302.2 L215.5 306" fill="none" stroke="#808080" stroke-width="1" shape-rendering="auto"/>
<rect x="174" y="308" width="3" height="2" fill="#ff0000"/>
<rect x="185" y="308" width="3" height="2" fill="#ff0000"/>
<rect x="174" y="312" width="3" height="2" fill="#ff0000"/>
<rect x="185" y="312" width="3" height="2" fill="#ff0000"/>
<rect x="174" y="316" width="3" height="2" fill="#ff0000"/>
<rect x="185" y="316" width="3" height="2" fill="#ff0000"/>
<rect x="174" y="320" width="3" height="2" fill="#ff0000"/>
<rect x="185" y="320" width="3" height="2" fill="#ff0000"/>
<rect x="177" y="306" width="8" height="1" fill="#808080"/>
<rect x="177" y="326" width="8" height="1" fill="#808080"/>
<rect x="177" y="306" width="1" height="21" fill="#808080"/>
<rect x="184" y="306" width="1" height="21" fill="#808080"/>
<path d="M178.5 326 L181 322.2 L183.5 326" fill="none" stroke="#808080" stroke-width="1" shape-rendering="auto"/>
<rect x="190" y="308" width="3" height="2" fill="#ff0000"/>
<rect x="201" y="308" width="3" height="2" fill="#ff0000"/>
<rect x="190" y="312" width="3" height="2" fill="#ff0000"/>
<rect x="201" y="312" width="3" height="2" fill="#ff0000"/>
<rect x="190" y="316" width="3" height="2" fill="#ff0000"/>
<rect x="201" y="316" width="3" height="2" fill="#ff0000"/>
<rect x="190" y="320" width="3" height="2" fill="#ff0000"/>
<rect x="201" y="320" width="3" height="2" fill="#ff0000"/>
<rect x="193" y="306" width="8" height="1" fill="#808080"/>
<rect x="193" y="326" width="8" height="1" fill="#808080"/>
<rect x="193" y="306" width="1" height="21" fill="#808080"/>
<rect x="200" y="306" width="1" height="21" fill="#808080"/>
<path d="M194.5 326 L197 322.2 L199.5 326" fill="none" stroke="#808080" stroke-width="1" shape-rendering="auto"/>
<rect x="206" y="308" width="3" height="2" fill="#ff0000"/>
<rect x="217" y="308" width="3" height="2" fill="#ff0000"/>
<rect x="206" y="312" width="3" height="2" fill="#ff0000"/>
<rect x="217" y="312" width="3" height="2" fill="#ff0000"/>
<rect x="206" y="316" width="3" height="2" fill="#ff0000"/>
<rect x="217" y="316" width="3" height="2" fill="#ff0000"/>
<rect x="206" y="320" width="3" height="2" fill="#ff0000"/>
<rect x="217" y="320" width="3" height="2" fill="#ff0000"/>
<rect x="209" y="306" width="8" height="1" fill="#808080"/>
<rect x="209" y="326" width="8" height="1" fill="#808080"/>
<rect x="209" y="306" width="1" height="21" fill="#808080"/>
<rect x="216" y="306" width="1" height="21" fill="#808080"/>
<path d="M210.5 326 L213 322.2 L215.5 326" fill="none" stroke="#808080" stroke-width="1" shape-rendering="auto"/>
<rect x="222" y="284" width="3" height="7" fill="#ff0000"/>
<rect x="223" y="279" width="1" height="5" fill="#808080"/>
<rect x="223" y="291" width="1" height="4" fill="#808080"/>
<rect x="226" y="293" width="10" height="1" fill="#808080"/>
<rect x="221" y="295" width="6" height="1" fill="#808080"/>
<rect x="221" y="305" width="6" height="1" fill="#808080"/>
<rect x="221" y="295" width="1" height="11" fill="#808080"/>
<rect x="226" y="295" width="1" height="11" fill="#808080"/>
<rect x="222" y="297" width="4" height="3" fill="#3d7f7f"/>
<rect x="222" y="301" width="4" height="3" fill="#3d7f7f"/>
<rect x="232" y="281" width="7" height="3" fill="#ff0000"/>
<rect x="232" y="285" width="7" height="3" fill="#ff0000"/>
<rect x="232" y="289" width="7" height="4" fill="#ff0000"/>
<rect x="237" y="298" width="6" height="1" fill="#808080"/>
<rect x="237" y="306" width="6" height="1" fill="#808080"/>
<rect x="237" y="298" width="1" height="9" fill="#808080"/>
<rect x="242" y="298" width="1" height="9" fill="#808080"/>
<rect x="238" y="300" width="3" height="2" fill="#ff0000"/>
<rect x="238" y="303" width="3" height="2" fill="#ff0000"/>
</g>
<circle cx="248.7" cy="303.9" r="5.9" fill="none" stroke="#808080" stroke-width="1"/>
<circle cx="248.7" cy="301" r="1.4" fill="#3d7f7f"/>
<circle cx="246" cy="304" r="1.4" fill="#3d7f7f"/>
<circle cx="251.4" cy="304" r="1.4" fill="#3d7f7f"/>
<circle cx="248.7" cy="307" r="1.4" fill="#3d7f7f"/>
<g shape-rendering="crispEdges">
<rect x="256" y="295" width="3" height="2" fill="#ff0000"/>
<rect x="268" y="295" width="3" height="2" fill="#ff0000"/>
<rect x="256" y="299" width="3" height="2" fill="#ff0000"/>
<rect x="268" y="299" width="3" height="2" fill="#ff0000"/>
<rect x="256" y="303" width="3" height="2" fill="#ff0000"/>
<rect x="268" y="303" width="3" height="2" fill="#ff0000"/>
<rect x="256" y="307" width="3" height="2" fill="#ff0000"/>
<rect x="268" y="307" width="3" height="2" fill="#ff0000"/>
<rect x="259" y="291" width="9" height="1" fill="#808080"/>
<rect x="259" y="311" width="9" height="1" fill="#808080"/>
<rect x="259" y="291" width="1" height="21" fill="#808080"/>
<rect x="267" y="291" width="1" height="21" fill="#808080"/>
<path d="M260.5 311 L263.5 307.2 L266.5 311" fill="none" stroke="#808080" stroke-width="1" shape-rendering="auto"/>
<rect x="272" y="295" width="3" height="2" fill="#ff0000"/>
<rect x="284" y="295" width="3" height="2" fill="#ff0000"/>
<rect x="272" y="299" width="3" height="2" fill="#ff0000"/>
<rect x="284" y="299" width="3" height="2" fill="#ff0000"/>
<rect x="272" y="303" width="3" height="2" fill="#ff0000"/>
<rect x="284" y="303" width="3" height="2" fill="#ff0000"/>
<rect x="272" y="307" width="3" height="2" fill="#ff0000"/>
<rect x="284" y="307" width="3" height="2" fill="#ff0000"/>
<rect x="275" y="291" width="9" height="1" fill="#808080"/>
<rect x="275" y="311" width="9" height="1" fill="#808080"/>
<rect x="275" y="291" width="1" height="21" fill="#808080"/>
<rect x="283" y="291" width="1" height="21" fill="#808080"/>
<path d="M276.5 311 L279.5 307.2 L282.5 311" fill="none" stroke="#808080" stroke-width="1" shape-rendering="auto"/>
<rect x="88" y="313" width="6" height="1" fill="#808080"/>
<rect x="88" y="320" width="6" height="1" fill="#808080"/>
<rect x="88" y="313" width="1" height="8" fill="#808080"/>
<rect x="93" y="313" width="1" height="8" fill="#808080"/>
<rect x="89" y="315" width="3" height="2" fill="#ff0000"/>
<rect x="89" y="318" width="3" height="2" fill="#ff0000"/>
<rect x="110" y="316" width="3" height="2" fill="#ff0000"/>
<rect x="122" y="316" width="3" height="2" fill="#ff0000"/>
<rect x="110" y="320" width="3" height="2" fill="#ff0000"/>
<rect x="122" y="320" width="3" height="2" fill="#ff0000"/>
<rect x="110" y="324" width="3" height="2" fill="#ff0000"/>
<rect x="122" y="324" width="3" height="2" fill="#ff0000"/>
<rect x="110" y="327" width="3" height="2" fill="#ff0000"/>
<rect x="122" y="327" width="3" height="2" fill="#ff0000"/>
<rect x="113" y="314" width="9" height="1" fill="#808080"/>
<rect x="113" y="333" width="9" height="1" fill="#808080"/>
<rect x="113" y="314" width="1" height="20" fill="#808080"/>
<rect x="121" y="314" width="1" height="20" fill="#808080"/>
<path d="M114.5 333 L117.5 329.2 L120.5 333" fill="none" stroke="#808080" stroke-width="1" shape-rendering="auto"/>
<rect x="126" y="316" width="3" height="2" fill="#ff0000"/>
<rect x="138" y="316" width="3" height="2" fill="#ff0000"/>
<rect x="126" y="320" width="3" height="2" fill="#ff0000"/>
<rect x="138" y="320" width="3" height="2" fill="#ff0000"/>
<rect x="126" y="324" width="3" height="2" fill="#ff0000"/>
<rect x="138" y="324" width="3" height="2" fill="#ff0000"/>
<rect x="126" y="327" width="3" height="2" fill="#ff0000"/>
<rect x="138" y="327" width="3" height="2" fill="#ff0000"/>
<rect x="129" y="314" width="9" height="1" fill="#808080"/>
<rect x="129" y="333" width="9" height="1" fill="#808080"/>
<rect x="129" y="314" width="1" height="20" fill="#808080"/>
<rect x="137" y="314" width="1" height="20" fill="#808080"/>
<path d="M130.5 333 L133.5 329.2 L136.5 333" fill="none" stroke="#808080" stroke-width="1" shape-rendering="auto"/>
<rect x="142" y="316" width="3" height="2" fill="#ff0000"/>
<rect x="153" y="316" width="3" height="2" fill="#ff0000"/>
<rect x="142" y="320" width="3" height="2" fill="#ff0000"/>
<rect x="153" y="320" width="3" height="2" fill="#ff0000"/>
<rect x="142" y="324" width="3" height="2" fill="#ff0000"/>
<rect x="153" y="324" width="3" height="2" fill="#ff0000"/>
<rect x="142" y="327" width="3" height="2" fill="#ff0000"/>
<rect x="153" y="327" width="3" height="2" fill="#ff0000"/>
<rect x="145" y="314" width="8" height="1" fill="#808080"/>
<rect x="145" y="333" width="8" height="1" fill="#808080"/>
<rect x="145" y="314" width="1" height="20" fill="#808080"/>
<rect x="152" y="314" width="1" height="20" fill="#808080"/>
<path d="M146.5 333 L149 329.2 L151.5 333" fill="none" stroke="#808080" stroke-width="1" shape-rendering="auto"/>
<rect x="158" y="316" width="3" height="2" fill="#ff0000"/>
<rect x="169" y="316" width="3" height="2" fill="#ff0000"/>
<rect x="158" y="320" width="3" height="2" fill="#ff0000"/>
<rect x="169" y="320" width="3" height="2" fill="#ff0000"/>
<rect x="158" y="324" width="3" height="2" fill="#ff0000"/>
<rect x="169" y="324" width="3" height="2" fill="#ff0000"/>
<rect x="158" y="327" width="3" height="2" fill="#ff0000"/>
<rect x="169" y="327" width="3" height="2" fill="#ff0000"/>
<rect x="161" y="313" width="8" height="1" fill="#808080"/>
<rect x="161" y="333" width="8" height="1" fill="#808080"/>
<rect x="161" y="313" width="1" height="21" fill="#808080"/>
<rect x="168" y="313" width="1" height="21" fill="#808080"/>
<path d="M162.5 333 L165 329.2 L167.5 333" fill="none" stroke="#808080" stroke-width="1" shape-rendering="auto"/>
<rect x="182" y="327" width="8" height="1" fill="#808080"/>
<rect x="182" y="333" width="8" height="1" fill="#808080"/>
<rect x="182" y="327" width="1" height="7" fill="#808080"/>
<rect x="189" y="327" width="1" height="7" fill="#808080"/>
<rect x="183" y="328" width="2" height="2" fill="#ff0000"/>
<rect x="186" y="328" width="2" height="2" fill="#ff0000"/>
<rect x="183" y="331" width="2" height="2" fill="#ff0000"/>
<rect x="186" y="331" width="2" height="2" fill="#ff0000"/>
<rect x="194" y="327" width="6" height="4" fill="#ff0000"/>
<rect x="211" y="327" width="10" height="4" fill="#ff0000"/>
<rect x="190" y="344" width="4" height="10" fill="#ff0000"/>
<rect x="223" y="344" width="4" height="10" fill="#ff0000"/>
<rect x="195" y="360" width="6" height="3" fill="#ff0000"/>
<rect x="211" y="360" width="11" height="3" fill="#ff0000"/>
</g>
<path d="M195 330.5 H223.5 V360.5 H195 L193.5 359 V332 Z" fill="none" stroke="#808080" stroke-width="1"/>
<g shape-rendering="crispEdges">
<rect x="235" y="314" width="1" height="5" fill="#ff0000"/>
<rect x="235" y="339" width="1" height="4" fill="#ff0000"/>
<rect x="237" y="314" width="1" height="5" fill="#ff0000"/>
<rect x="237" y="339" width="1" height="4" fill="#ff0000"/>
<rect x="240" y="314" width="1" height="5" fill="#ff0000"/>
<rect x="240" y="339" width="1" height="4" fill="#ff0000"/>
<rect x="242" y="314" width="1" height="5" fill="#ff0000"/>
<rect x="242" y="339" width="1" height="4" fill="#ff0000"/>
<rect x="245" y="314" width="1" height="5" fill="#ff0000"/>
<rect x="245" y="339" width="1" height="4" fill="#ff0000"/>
<rect x="247" y="314" width="1" height="5" fill="#ff0000"/>
<rect x="247" y="339" width="1" height="4" fill="#ff0000"/>
<rect x="250" y="314" width="1" height="5" fill="#ff0000"/>
<rect x="250" y="339" width="1" height="4" fill="#ff0000"/>
<rect x="252" y="314" width="1" height="5" fill="#ff0000"/>
<rect x="252" y="339" width="1" height="4" fill="#ff0000"/>
<rect x="255" y="314" width="1" height="5" fill="#ff0000"/>
<rect x="255" y="339" width="1" height="4" fill="#ff0000"/>
<rect x="228" y="320" width="5" height="1" fill="#ff0000"/>
<rect x="257" y="320" width="5" height="1" fill="#ff0000"/>
<rect x="228" y="322" width="5" height="1" fill="#ff0000"/>
<rect x="257" y="322" width="5" height="1" fill="#ff0000"/>
<rect x="228" y="325" width="5" height="1" fill="#ff0000"/>
<rect x="257" y="325" width="5" height="1" fill="#ff0000"/>
<rect x="228" y="327" width="5" height="1" fill="#ff0000"/>
<rect x="257" y="327" width="5" height="1" fill="#ff0000"/>
<rect x="228" y="329" width="5" height="1" fill="#ff0000"/>
<rect x="257" y="329" width="5" height="1" fill="#ff0000"/>
<rect x="228" y="332" width="5" height="1" fill="#ff0000"/>
<rect x="257" y="332" width="5" height="1" fill="#ff0000"/>
<rect x="228" y="334" width="5" height="1" fill="#ff0000"/>
<rect x="257" y="334" width="5" height="1" fill="#ff0000"/>
<rect x="228" y="336" width="5" height="1" fill="#ff0000"/>
<rect x="257" y="336" width="5" height="1" fill="#ff0000"/>
</g>
<path d="M237 319.5 H253.5 L256.5 322.5 V335 L253.5 338 H237 L234 335 V322.5 Z" fill="none" stroke="#808080" stroke-width="1"/>
<g shape-rendering="crispEdges">
<rect x="263" y="328" width="3" height="2" fill="#ff0000"/>
<rect x="275" y="328" width="3" height="2" fill="#ff0000"/>
<rect x="263" y="332" width="3" height="2" fill="#ff0000"/>
<rect x="275" y="332" width="3" height="2" fill="#ff0000"/>
<rect x="263" y="336" width="3" height="2" fill="#ff0000"/>
<rect x="275" y="336" width="3" height="2" fill="#ff0000"/>
<rect x="263" y="340" width="3" height="2" fill="#ff0000"/>
<rect x="275" y="340" width="3" height="2" fill="#ff0000"/>
<rect x="266" y="325" width="9" height="1" fill="#808080"/>
<rect x="266" y="345" width="9" height="1" fill="#808080"/>
<rect x="266" y="325" width="1" height="21" fill="#808080"/>
<rect x="274" y="325" width="1" height="21" fill="#808080"/>
<path d="M267.5 345 L270.5 341.2 L273.5 345" fill="none" stroke="#808080" stroke-width="1" shape-rendering="auto"/>
<rect x="94" y="331" width="3" height="2" fill="#ff0000"/>
<rect x="106" y="331" width="3" height="2" fill="#ff0000"/>
<rect x="94" y="335" width="3" height="2" fill="#ff0000"/>
<rect x="106" y="335" width="3" height="2" fill="#ff0000"/>
<rect x="94" y="339" width="3" height="2" fill="#ff0000"/>
<rect x="106" y="339" width="3" height="2" fill="#ff0000"/>
<rect x="94" y="343" width="3" height="2" fill="#ff0000"/>
<rect x="106" y="343" width="3" height="2" fill="#ff0000"/>
<rect x="97" y="326" width="9" height="1" fill="#808080"/>
<rect x="97" y="346" width="9" height="1" fill="#808080"/>
<rect x="97" y="326" width="1" height="21" fill="#808080"/>
<rect x="105" y="326" width="1" height="21" fill="#808080"/>
<path d="M98.5 346 L101.5 342.2 L104.5 346" fill="none" stroke="#808080" stroke-width="1" shape-rendering="auto"/>
<rect x="94" y="351" width="3" height="2" fill="#ff0000"/>
<rect x="106" y="351" width="3" height="2" fill="#ff0000"/>
<rect x="94" y="355" width="3" height="2" fill="#ff0000"/>
<rect x="106" y="355" width="3" height="2" fill="#ff0000"/>
<rect x="94" y="359" width="3" height="2" fill="#ff0000"/>
<rect x="106" y="359" width="3" height="2" fill="#ff0000"/>
<rect x="94" y="363" width="3" height="2" fill="#ff0000"/>
<rect x="106" y="363" width="3" height="2" fill="#ff0000"/>
<rect x="97" y="347" width="9" height="1" fill="#808080"/>
<rect x="97" y="367" width="9" height="1" fill="#808080"/>
<rect x="97" y="347" width="1" height="21" fill="#808080"/>
<rect x="105" y="347" width="1" height="21" fill="#808080"/>
<path d="M98.5 367 L101.5 363.2 L104.5 367" fill="none" stroke="#808080" stroke-width="1" shape-rendering="auto"/>
<rect x="94" y="369" width="3" height="2" fill="#ff0000"/>
<rect x="106" y="369" width="3" height="2" fill="#ff0000"/>
<rect x="94" y="372" width="3" height="2" fill="#ff0000"/>
<rect x="106" y="372" width="3" height="2" fill="#ff0000"/>
<rect x="94" y="376" width="3" height="2" fill="#ff0000"/>
<rect x="106" y="376" width="3" height="2" fill="#ff0000"/>
<rect x="94" y="380" width="3" height="2" fill="#ff0000"/>
<rect x="106" y="380" width="3" height="2" fill="#ff0000"/>
<rect x="97" y="368" width="9" height="1" fill="#808080"/>
<rect x="97" y="382" width="9" height="1" fill="#808080"/>
<rect x="97" y="368" width="1" height="15" fill="#808080"/>
<rect x="105" y="368" width="1" height="15" fill="#808080"/>
<rect x="94" y="385" width="3" height="2" fill="#ff0000"/>
<rect x="106" y="385" width="3" height="2" fill="#ff0000"/>
<rect x="94" y="388" width="3" height="2" fill="#ff0000"/>
<rect x="106" y="388" width="3" height="2" fill="#ff0000"/>
<rect x="94" y="392" width="3" height="2" fill="#ff0000"/>
<rect x="106" y="392" width="3" height="2" fill="#ff0000"/>
<rect x="94" y="396" width="3" height="2" fill="#ff0000"/>
<rect x="106" y="396" width="3" height="2" fill="#ff0000"/>
<rect x="97" y="384" width="9" height="1" fill="#808080"/>
<rect x="97" y="399" width="9" height="1" fill="#808080"/>
<rect x="97" y="384" width="1" height="16" fill="#808080"/>
<rect x="105" y="384" width="1" height="16" fill="#808080"/>
<rect x="197" y="368" width="3" height="2" fill="#ff0000"/>
<rect x="209" y="368" width="3" height="2" fill="#ff0000"/>
<rect x="197" y="372" width="3" height="2" fill="#ff0000"/>
<rect x="209" y="372" width="3" height="2" fill="#ff0000"/>
<rect x="197" y="376" width="3" height="2" fill="#ff0000"/>
<rect x="209" y="376" width="3" height="2" fill="#ff0000"/>
<rect x="197" y="380" width="3" height="2" fill="#ff0000"/>
<rect x="209" y="380" width="3" height="2" fill="#ff0000"/>
<rect x="200" y="366" width="9" height="1" fill="#808080"/>
<rect x="200" y="385" width="9" height="1" fill="#808080"/>
<rect x="200" y="366" width="1" height="20" fill="#808080"/>
<rect x="208" y="366" width="1" height="20" fill="#808080"/>
<path d="M201.5 385 L204.5 381.2 L207.5 385" fill="none" stroke="#808080" stroke-width="1" shape-rendering="auto"/>
<rect x="197" y="388" width="3" height="2" fill="#ff0000"/>
<rect x="209" y="388" width="3" height="2" fill="#ff0000"/>
<rect x="197" y="392" width="3" height="2" fill="#ff0000"/>
<rect x="209" y="392" width="3" height="2" fill="#ff0000"/>
<rect x="197" y="396" width="3" height="2" fill="#ff0000"/>
<rect x="209" y="396" width="3" height="2" fill="#ff0000"/>
<rect x="197" y="400" width="3" height="2" fill="#ff0000"/>
<rect x="209" y="400" width="3" height="2" fill="#ff0000"/>
<rect x="200" y="386" width="9" height="1" fill="#808080"/>
<rect x="200" y="405" width="9" height="1" fill="#808080"/>
<rect x="200" y="386" width="1" height="20" fill="#808080"/>
<rect x="208" y="386" width="1" height="20" fill="#808080"/>
<path d="M201.5 405 L204.5 401.2 L207.5 405" fill="none" stroke="#808080" stroke-width="1" shape-rendering="auto"/>
<rect x="213" y="368" width="3" height="2" fill="#ff0000"/>
<rect x="224" y="368" width="3" height="2" fill="#ff0000"/>
<rect x="213" y="372" width="3" height="2" fill="#ff0000"/>
<rect x="224" y="372" width="3" height="2" fill="#ff0000"/>
<rect x="213" y="376" width="3" height="2" fill="#ff0000"/>
<rect x="224" y="376" width="3" height="2" fill="#ff0000"/>
<rect x="213" y="380" width="3" height="2" fill="#ff0000"/>
<rect x="224" y="380" width="3" height="2" fill="#ff0000"/>
<rect x="216" y="366" width="8" height="1" fill="#808080"/>
<rect x="216" y="385" width="8" height="1" fill="#808080"/>
<rect x="216" y="366" width="1" height="20" fill="#808080"/>
<rect x="223" y="366" width="1" height="20" fill="#808080"/>
<path d="M217.5 385 L220 381.2 L222.5 385" fill="none" stroke="#808080" stroke-width="1" shape-rendering="auto"/>
<rect x="213" y="388" width="3" height="2" fill="#ff0000"/>
<rect x="224" y="388" width="3" height="2" fill="#ff0000"/>
<rect x="213" y="392" width="3" height="2" fill="#ff0000"/>
<rect x="224" y="392" width="3" height="2" fill="#ff0000"/>
<rect x="213" y="396" width="3" height="2" fill="#ff0000"/>
<rect x="224" y="396" width="3" height="2" fill="#ff0000"/>
<rect x="213" y="400" width="3" height="2" fill="#ff0000"/>
<rect x="224" y="400" width="3" height="2" fill="#ff0000"/>
<rect x="216" y="386" width="8" height="1" fill="#808080"/>
<rect x="216" y="405" width="8" height="1" fill="#808080"/>
<rect x="216" y="386" width="1" height="20" fill="#808080"/>
<rect x="223" y="386" width="1" height="20" fill="#808080"/>
<path d="M217.5 405 L220 401.2 L222.5 405" fill="none" stroke="#808080" stroke-width="1" shape-rendering="auto"/>
<rect x="229" y="348" width="3" height="2" fill="#ff0000"/>
<rect x="240" y="348" width="3" height="2" fill="#ff0000"/>
<rect x="229" y="352" width="3" height="2" fill="#ff0000"/>
<rect x="240" y="352" width="3" height="2" fill="#ff0000"/>
<rect x="229" y="356" width="3" height="2" fill="#ff0000"/>
<rect x="240" y="356" width="3" height="2" fill="#ff0000"/>
<rect x="229" y="360" width="3" height="2" fill="#ff0000"/>
<rect x="240" y="360" width="3" height="2" fill="#ff0000"/>
<rect x="232" y="346" width="8" height="1" fill="#808080"/>
<rect x="232" y="365" width="8" height="1" fill="#808080"/>
<rect x="232" y="346" width="1" height="20" fill="#808080"/>
<rect x="239" y="346" width="1" height="20" fill="#808080"/>
<path d="M233.5 365 L236 361.2 L238.5 365" fill="none" stroke="#808080" stroke-width="1" shape-rendering="auto"/>
<rect x="229" y="368" width="3" height="2" fill="#ff0000"/>
<rect x="240" y="368" width="3" height="2" fill="#ff0000"/>
<rect x="229" y="372" width="3" height="2" fill="#ff0000"/>
<rect x="240" y="372" width="3" height="2" fill="#ff0000"/>
<rect x="229" y="376" width="3" height="2" fill="#ff0000"/>
<rect x="240" y="376" width="3" height="2" fill="#ff0000"/>
<rect x="229" y="380" width="3" height="2" fill="#ff0000"/>
<rect x="240" y="380" width="3" height="2" fill="#ff0000"/>
<rect x="232" y="366" width="8" height="1" fill="#808080"/>
<rect x="232" y="386" width="8" height="1" fill="#808080"/>
<rect x="232" y="366" width="1" height="21" fill="#808080"/>
<rect x="239" y="366" width="1" height="21" fill="#808080"/>
<path d="M233.5 386 L236 382.2 L238.5 386" fill="none" stroke="#808080" stroke-width="1" shape-rendering="auto"/>
<rect x="229" y="389" width="3" height="2" fill="#ff0000"/>
<rect x="240" y="389" width="3" height="2" fill="#ff0000"/>
<rect x="229" y="393" width="3" height="2" fill="#ff0000"/>
<rect x="240" y="393" width="3" height="2" fill="#ff0000"/>
<rect x="229" y="397" width="3" height="2" fill="#ff0000"/>
<rect x="240" y="397" width="3" height="2" fill="#ff0000"/>
<rect x="229" y="401" width="3" height="2" fill="#ff0000"/>
<rect x="240" y="401" width="3" height="2" fill="#ff0000"/>
<rect x="232" y="387" width="8" height="1" fill="#808080"/>
<rect x="232" y="406" width="8" height="1" fill="#808080"/>
<rect x="232" y="387" width="1" height="20" fill="#808080"/>
<rect x="239" y="387" width="1" height="20" fill="#808080"/>
<path d="M233.5 406 L236 402.2 L238.5 406" fill="none" stroke="#808080" stroke-width="1" shape-rendering="auto"/>
<rect x="244" y="348" width="3" height="2" fill="#ff0000"/>
<rect x="256" y="348" width="3" height="2" fill="#ff0000"/>
<rect x="244" y="352" width="3" height="2" fill="#ff0000"/>
<rect x="256" y="352" width="3" height="2" fill="#ff0000"/>
<rect x="244" y="356" width="3" height="2" fill="#ff0000"/>
<rect x="256" y="356" width="3" height="2" fill="#ff0000"/>
<rect x="244" y="360" width="3" height="2" fill="#ff0000"/>
<rect x="256" y="360" width="3" height="2" fill="#ff0000"/>
<rect x="247" y="346" width="9" height="1" fill="#808080"/>
<rect x="247" y="365" width="9" height="1" fill="#808080"/>
<rect x="247" y="346" width="1" height="20" fill="#808080"/>
<rect x="255" y="346" width="1" height="20" fill="#808080"/>
<path d="M248.5 365 L251.5 361.2 L254.5 365" fill="none" stroke="#808080" stroke-width="1" shape-rendering="auto"/>
<rect x="244" y="368" width="3" height="2" fill="#ff0000"/>
<rect x="256" y="368" width="3" height="2" fill="#ff0000"/>
<rect x="244" y="372" width="3" height="2" fill="#ff0000"/>
<rect x="256" y="372" width="3" height="2" fill="#ff0000"/>
<rect x="244" y="376" width="3" height="2" fill="#ff0000"/>
<rect x="256" y="376" width="3" height="2" fill="#ff0000"/>
<rect x="244" y="380" width="3" height="2" fill="#ff0000"/>
<rect x="256" y="380" width="3" height="2" fill="#ff0000"/>
<rect x="247" y="366" width="9" height="1" fill="#808080"/>
<rect x="247" y="386" width="9" height="1" fill="#808080"/>
<rect x="247" y="366" width="1" height="21" fill="#808080"/>
<rect x="255" y="366" width="1" height="21" fill="#808080"/>
<path d="M248.5 386 L251.5 382.2 L254.5 386" fill="none" stroke="#808080" stroke-width="1" shape-rendering="auto"/>
<rect x="244" y="389" width="3" height="2" fill="#ff0000"/>
<rect x="256" y="389" width="3" height="2" fill="#ff0000"/>
<rect x="244" y="393" width="3" height="2" fill="#ff0000"/>
<rect x="256" y="393" width="3" height="2" fill="#ff0000"/>
<rect x="244" y="397" width="3" height="2" fill="#ff0000"/>
<rect x="256" y="397" width="3" height="2" fill="#ff0000"/>
<rect x="244" y="401" width="3" height="2" fill="#ff0000"/>
<rect x="256" y="401" width="3" height="2" fill="#ff0000"/>
<rect x="247" y="387" width="9" height="1" fill="#808080"/>
<rect x="247" y="406" width="9" height="1" fill="#808080"/>
<rect x="247" y="387" width="1" height="20" fill="#808080"/>
<rect x="255" y="387" width="1" height="20" fill="#808080"/>
<path d="M248.5 406 L251.5 402.2 L254.5 406" fill="none" stroke="#808080" stroke-width="1" shape-rendering="auto"/>
<rect x="263" y="347" width="3" height="2" fill="#ff0000"/>
<rect x="275" y="347" width="3" height="2" fill="#ff0000"/>
<rect x="263" y="351" width="3" height="2" fill="#ff0000"/>
<rect x="275" y="351" width="3" height="2" fill="#ff0000"/>
<rect x="263" y="355" width="3" height="2" fill="#ff0000"/>
<rect x="275" y="355" width="3" height="2" fill="#ff0000"/>
<rect x="266" y="345" width="9" height="1" fill="#808080"/>
<rect x="266" y="359" width="9" height="1" fill="#808080"/>
<rect x="266" y="345" width="1" height="15" fill="#808080"/>
<rect x="274" y="345" width="1" height="15" fill="#808080"/>
<path d="M267.5 359 L270.5 355.2 L273.5 359" fill="none" stroke="#808080" stroke-width="1" shape-rendering="auto"/>
<rect x="263" y="362" width="3" height="2" fill="#ff0000"/>
<rect x="275" y="362" width="3" height="2" fill="#ff0000"/>
<rect x="263" y="366" width="3" height="2" fill="#ff0000"/>
<rect x="275" y="366" width="3" height="2" fill="#ff0000"/>
<rect x="263" y="370" width="3" height="2" fill="#ff0000"/>
<rect x="275" y="370" width="3" height="2" fill="#ff0000"/>
<rect x="266" y="360" width="9" height="1" fill="#808080"/>
<rect x="266" y="379" width="9" height="1" fill="#808080"/>
<rect x="266" y="360" width="1" height="20" fill="#808080"/>
<rect x="274" y="360" width="1" height="20" fill="#808080"/>
<path d="M267.5 379 L270.5 375.2 L273.5 379" fill="none" stroke="#808080" stroke-width="1" shape-rendering="auto"/>
<rect x="263" y="382" width="3" height="2" fill="#ff0000"/>
<rect x="275" y="382" width="3" height="2" fill="#ff0000"/>
<rect x="263" y="386" width="3" height="2" fill="#ff0000"/>
<rect x="275" y="386" width="3" height="2" fill="#ff0000"/>
<rect x="263" y="390" width="3" height="2" fill="#ff0000"/>
<rect x="275" y="390" width="3" height="2" fill="#ff0000"/>
<rect x="266" y="380" width="9" height="1" fill="#808080"/>
<rect x="266" y="399" width="9" height="1" fill="#808080"/>
<rect x="266" y="380" width="1" height="20" fill="#808080"/>
<rect x="274" y="380" width="1" height="20" fill="#808080"/>
<path d="M267.5 399 L270.5 395.2 L273.5 399" fill="none" stroke="#808080" stroke-width="1" shape-rendering="auto"/>
<rect x="263" y="401" width="3" height="2" fill="#ff0000"/>
<rect x="275" y="401" width="3" height="2" fill="#ff0000"/>
<rect x="263" y="404" width="3" height="2" fill="#ff0000"/>
<rect x="275" y="404" width="3" height="2" fill="#ff0000"/>
<rect x="263" y="408" width="3" height="2" fill="#ff0000"/>
<rect x="275" y="408" width="3" height="2" fill="#ff0000"/>
<rect x="266" y="400" width="9" height="1" fill="#808080"/>
<rect x="266" y="412" width="9" height="1" fill="#808080"/>
<rect x="266" y="400" width="1" height="13" fill="#808080"/>
<rect x="274" y="400" width="1" height="13" fill="#808080"/>
</g>
<rect x="238" y="371.5" width="20.5" height="28.5" fill="none" stroke="#22dd22" stroke-width="1.4"/>
<path d="M89 423.5 H100.5 V428.5 H275.5 V423.5 H286.5 V436 H89 Z" fill="none" stroke="#808080" stroke-width="1"/>
<circle cx="93.6" cy="430.8" r="3.8" fill="#3d7f7f"/>
<circle cx="279.8" cy="430.8" r="3.8" fill="#3d7f7f"/>
<circle cx="104.8" cy="414.8" r="1.8" fill="#3d7f7f"/>
<circle cx="104.8" cy="420.2" r="1.8" fill="#3d7f7f"/>
<circle cx="104.8" cy="425.8" r="1.8" fill="#3d7f7f"/>
<circle cx="110.12" cy="414.8" r="1.8" fill="#3d7f7f"/>
<circle cx="110.12" cy="420.2" r="1.8" fill="#3d7f7f"/>
<circle cx="110.12" cy="425.8" r="1.8" fill="#3d7f7f"/>
<circle cx="115.44" cy="414.8" r="1.8" fill="#3d7f7f"/>
<circle cx="115.44" cy="420.2" r="1.8" fill="#3d7f7f"/>
<circle cx="115.44" cy="425.8" r="1.8" fill="#3d7f7f"/>
<circle cx="120.76" cy="414.8" r="1.8" fill="#3d7f7f"/>
<circle cx="120.76" cy="420.2" r="1.8" fill="#3d7f7f"/>
<circle cx="120.76" cy="425.8" r="1.8" fill="#3d7f7f"/>
<circle cx="126.08" cy="414.8" r="1.8" fill="#3d7f7f"/>
<circle cx="126.08" cy="420.2" r="1.8" fill="#3d7f7f"/>
<circle cx="126.08" cy="425.8" r="1.8" fill="#3d7f7f"/>
<circle cx="131.4" cy="414.8" r="1.8" fill="#3d7f7f"/>
<circle cx="131.4" cy="420.2" r="1.8" fill="#3d7f7f"/>
<circle cx="131.4" cy="425.8" r="1.8" fill="#3d7f7f"/>
<circle cx="136.72" cy="414.8" r="1.8" fill="#3d7f7f"/>
<circle cx="136.72" cy="420.2" r="1.8" fill="#3d7f7f"/>
<circle cx="136.72" cy="425.8" r="1.8" fill="#3d7f7f"/>
<circle cx="142.04" cy="414.8" r="1.8" fill="#3d7f7f"/>
<circle cx="142.04" cy="420.2" r="1.8" fill="#3d7f7f"/>
<circle cx="142.04" cy="425.8" r="1.8" fill="#3d7f7f"/>
<circle cx="147.36" cy="414.8" r="1.8" fill="#3d7f7f"/>
<circle cx="147.36" cy="420.2" r="1.8" fill="#3d7f7f"/>
<circle cx="147.36" cy="425.8" r="1.8" fill="#3d7f7f"/>
<circle cx="152.68" cy="414.8" r="1.8" fill="#3d7f7f"/>
<circle cx="152.68" cy="420.2" r="1.8" fill="#3d7f7f"/>
<circle cx="152.68" cy="425.8" r="1.8" fill="#3d7f7f"/>
<circle cx="158" cy="414.8" r="1.8" fill="#3d7f7f"/>
<circle cx="158" cy="420.2" r="1.8" fill="#3d7f7f"/>
<circle cx="158" cy="425.8" r="1.8" fill="#3d7f7f"/>
<circle cx="163.32" cy="414.8" r="1.8" fill="#3d7f7f"/>
<circle cx="163.32" cy="420.2" r="1.8" fill="#3d7f7f"/>
<circle cx="163.32" cy="425.8" r="1.8" fill="#3d7f7f"/>
<circle cx="168.64" cy="414.8" r="1.8" fill="#3d7f7f"/>
<circle cx="168.64" cy="420.2" r="1.8" fill="#3d7f7f"/>
<circle cx="168.64" cy="425.8" r="1.8" fill="#3d7f7f"/>
<circle cx="173.96" cy="414.8" r="1.8" fill="#3d7f7f"/>
<circle cx="173.96" cy="420.2" r="1.8" fill="#3d7f7f"/>
<circle cx="173.96" cy="425.8" r="1.8" fill="#3d7f7f"/>
<circle cx="179.28" cy="414.8" r="1.8" fill="#3d7f7f"/>
<circle cx="179.28" cy="420.2" r="1.8" fill="#3d7f7f"/>
<circle cx="179.28" cy="425.8" r="1.8" fill="#3d7f7f"/>
<circle cx="184.6" cy="414.8" r="1.8" fill="#3d7f7f"/>
<circle cx="184.6" cy="420.2" r="1.8" fill="#3d7f7f"/>
<circle cx="184.6" cy="425.8" r="1.8" fill="#3d7f7f"/>
<circle cx="189.92" cy="414.8" r="1.8" fill="#3d7f7f"/>
<circle cx="189.92" cy="420.2" r="1.8" fill="#3d7f7f"/>
<circle cx="189.92" cy="425.8" r="1.8" fill="#3d7f7f"/>
<circle cx="195.24" cy="414.8" r="1.8" fill="#3d7f7f"/>
<circle cx="195.24" cy="420.2" r="1.8" fill="#3d7f7f"/>
<circle cx="195.24" cy="425.8" r="1.8" fill="#3d7f7f"/>
<circle cx="200.56" cy="414.8" r="1.8" fill="#3d7f7f"/>
<circle cx="200.56" cy="420.2" r="1.8" fill="#3d7f7f"/>
<circle cx="200.56" cy="425.8" r="1.8" fill="#3d7f7f"/>
<circle cx="205.88" cy="414.8" r="1.8" fill="#3d7f7f"/>
<circle cx="205.88" cy="420.2" r="1.8" fill="#3d7f7f"/>
<circle cx="205.88" cy="425.8" r="1.8" fill="#3d7f7f"/>
<circle cx="211.2" cy="414.8" r="1.8" fill="#3d7f7f"/>
<circle cx="211.2" cy="420.2" r="1.8" fill="#3d7f7f"/>
<circle cx="211.2" cy="425.8" r="1.8" fill="#3d7f7f"/>
<circle cx="216.52" cy="414.8" r="1.8" fill="#3d7f7f"/>
<circle cx="216.52" cy="420.2" r="1.8" fill="#3d7f7f"/>
<circle cx="216.52" cy="425.8" r="1.8" fill="#3d7f7f"/>
<circle cx="221.84" cy="414.8" r="1.8" fill="#3d7f7f"/>
<circle cx="221.84" cy="420.2" r="1.8" fill="#3d7f7f"/>
<circle cx="221.84" cy="425.8" r="1.8" fill="#3d7f7f"/>
<circle cx="227.16" cy="414.8" r="1.8" fill="#3d7f7f"/>
<circle cx="227.16" cy="420.2" r="1.8" fill="#3d7f7f"/>
<circle cx="227.16" cy="425.8" r="1.8" fill="#3d7f7f"/>
<circle cx="232.48" cy="414.8" r="1.8" fill="#3d7f7f"/>
<circle cx="232.48" cy="420.2" r="1.8" fill="#3d7f7f"/>
<circle cx="232.48" cy="425.8" r="1.8" fill="#3d7f7f"/>
<circle cx="237.8" cy="414.8" r="1.8" fill="#3d7f7f"/>
<circle cx="237.8" cy="420.2" r="1.8" fill="#3d7f7f"/>
<circle cx="237.8" cy="425.8" r="1.8" fill="#3d7f7f"/>
<circle cx="243.12" cy="414.8" r="1.8" fill="#3d7f7f"/>
<circle cx="243.12" cy="420.2" r="1.8" fill="#3d7f7f"/>
<circle cx="243.12" cy="425.8" r="1.8" fill="#3d7f7f"/>
<circle cx="248.44" cy="414.8" r="1.8" fill="#3d7f7f"/>
<circle cx="248.44" cy="420.2" r="1.8" fill="#3d7f7f"/>
<circle cx="248.44" cy="425.8" r="1.8" fill="#3d7f7f"/>
<circle cx="253.76" cy="414.8" r="1.8" fill="#3d7f7f"/>
<circle cx="253.76" cy="420.2" r="1.8" fill="#3d7f7f"/>
<circle cx="253.76" cy="425.8" r="1.8" fill="#3d7f7f"/>
<circle cx="259.08" cy="414.8" r="1.8" fill="#3d7f7f"/>
<circle cx="259.08" cy="420.2" r="1.8" fill="#3d7f7f"/>
<circle cx="259.08" cy="425.8" r="1.8" fill="#3d7f7f"/>
<circle cx="264.4" cy="414.8" r="1.8" fill="#3d7f7f"/>
<circle cx="264.4" cy="420.2" r="1.8" fill="#3d7f7f"/>
<circle cx="264.4" cy="425.8" r="1.8" fill="#3d7f7f"/>
<circle cx="269.72" cy="414.8" r="1.8" fill="#3d7f7f"/>
<circle cx="269.72" cy="420.2" r="1.8" fill="#3d7f7f"/>
<circle cx="269.72" cy="425.8" r="1.8" fill="#3d7f7f"/></svg>
<svg class="a" style="left:0;top:0" width="721" height="562"><path d="M474 100.5 H587" stroke="#000" stroke-width="1.2"/><path d="M472 100.5 L482 96.5 L479.5 100.5 L482 104.5 Z" fill="#000"/></svg>
<svg class="a" style="left:0;top:0" width="721" height="562"><path d="M537 156.5 H585" stroke="#000" stroke-width="1.2"/><path d="M535 156.5 L545 152.5 L542.5 156.5 L545 160.5 Z" fill="#000"/></svg>
<svg class="a" style="left:0;top:0" width="721" height="562"><path d="M300 375.5 H587" stroke="#000" stroke-width="1.2"/><path d="M298 375.5 L308 371.5 L305.5 375.5 L308 379.5 Z" fill="#000"/></svg>
<svg class="a" style="left:0;top:0" width="721" height="562"><path d="M114 519.5 H587" stroke="#000" stroke-width="1.2"/><path d="M112 519.5 L122 515.5 L119.5 519.5 L122 523.5 Z" fill="#000"/></svg>
<div class="a t" style="left:590px;top:93px;font-size:16px;color:#111;font-weight:normal;will-change:transform">Docked Window</div>
<div class="a t" style="left:591px;top:149px;font-size:16px;color:#111;font-weight:normal;will-change:transform"><span style="letter-spacing:-0.4px">Auto-hide</span> Window</div>
<div class="a t" style="left:592px;top:368px;font-size:16px;color:#111;font-weight:normal;will-change:transform">Floating Window</div>
<div class="a t" style="left:593px;top:512px;font-size:16px;color:#111;font-weight:normal;will-change:transform">Tabbed Window</div>
</body></html>
